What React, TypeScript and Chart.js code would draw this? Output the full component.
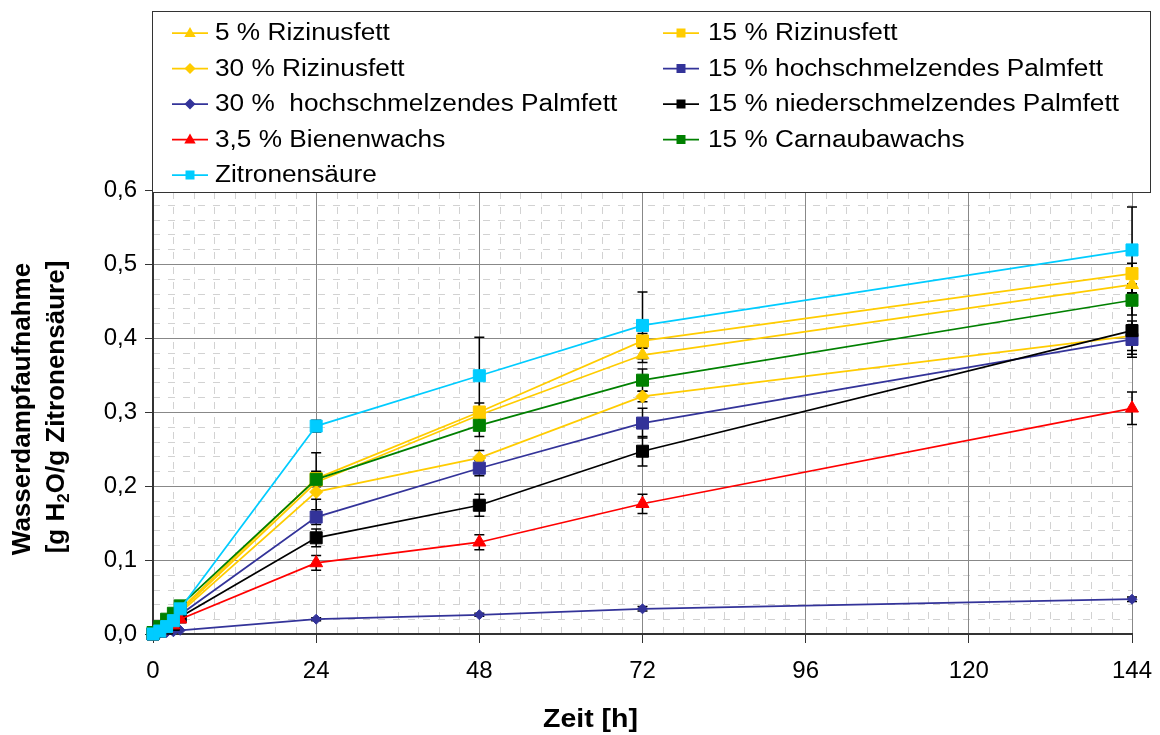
import React, { useEffect, useRef } from 'react';
import { Chart, registerables } from 'chart.js';

Chart.register(...registerables);

// ---- data ----
const times = [0, 1, 2, 3, 4, 24, 48, 72, 144];
const seriesNames = [
  '5 % Rizinusfett',
  '15 % Rizinusfett',
  '30 % Rizinusfett',
  '15 % hochschmelzendes Palmfett',
  '30 %  hochschmelzendes Palmfett',
  '15 % niederschmelzendes Palmfett',
  '3,5 % Bienenwachs',
  '15 % Carnaubawachs',
  'Zitronensäure',
];
const riz5 = [0, 0.005, 0.011, 0.019, 0.031, 0.205, 0.296, 0.377, 0.472];
const riz15 = [0, 0.005, 0.012, 0.02, 0.033, 0.21, 0.3, 0.396, 0.487];
const riz30 = [0, 0.004, 0.01, 0.017, 0.029, 0.192, 0.238, 0.321, 0.403];
const hoch15 = [0, 0.004, 0.009, 0.015, 0.026, 0.158, 0.224, 0.285, 0.398];
const hoch30 = [0, 0.001, 0.002, 0.003, 0.005, 0.02, 0.026, 0.034, 0.047];
const nieder15 = [0, 0.004, 0.008, 0.013, 0.023, 0.13, 0.174, 0.247, 0.41];
const bienen = [0, 0.003, 0.007, 0.012, 0.02, 0.096, 0.124, 0.176, 0.305];
const carnauba = [0.002, 0.01, 0.02, 0.028, 0.038, 0.209, 0.282, 0.343, 0.451];
const zitronen = [0, 0.004, 0.01, 0.018, 0.034, 0.281, 0.349, 0.417, 0.519];

const riz5Err = [0, 0, 0, 0, 0, 0.04, 0.01, 0.01, 0.012];
const riz15Err = [0, 0, 0, 0, 0, 0.01, 0.012, 0.01, 0.014];
const riz30Err = [0, 0, 0, 0, 0, 0.01, 0.01, 0.007, 0.02];
const hoch15Err = [0, 0, 0, 0, 0, 0.01, 0.01, 0.02, 0.02];
const hoch30Err = [0, 0, 0, 0, 0, 0.002, 0.002, 0.003, 0.003];
const nieder15Err = [0, 0, 0, 0, 0, 0.012, 0.015, 0.02, 0.036];
const bienenErr = [0, 0, 0, 0, 0, 0.01, 0.01, 0.013, 0.022];
const carnaubaErr = [0, 0, 0, 0, 0, 0.01, 0.015, 0.015, 0.02];
const zitronenErr = [0, 0, 0, 0, 0, 0.008, 0.052, 0.045, 0.058];

const xTickStep = 24;
const yTickStep = 0.1;
const xTitle = 'Zeit [h]';
const yTitleLine1 = 'Wasserdampfaufnahme';
const yTitleLine2 = ['[g H', '2', 'O/g Zitronensäure]'];

// ---- styles ----
const GOLD = '#FFCC00';
const NAVY = '#333399';
const seriesValues = [riz5, riz15, riz30, hoch15, hoch30, nieder15, bienen, carnauba, zitronen];
const seriesErrors = [riz5Err, riz15Err, riz30Err, hoch15Err, hoch30Err, nieder15Err, bienenErr, carnaubaErr, zitronenErr];
const seriesColors = [GOLD, GOLD, GOLD, NAVY, NAVY, '#000000', '#FF0000', '#008000', '#00CCFF'];
const seriesShapes = ['triangle', 'rect', 'rectRot', 'rect', 'rectRot', 'rect', 'triangle', 'rect', 'rect'];
const seriesRadius = [7.5, 8.5, 6.5, 8.5, 5, 8.5, 7.5, 8.5, 8.5];

const FONT = '"Liberation Sans", Arial, Helvetica, sans-serif';

function drawShape(ctx: CanvasRenderingContext2D, shape: string, x: number, y: number, s: number) {
  ctx.beginPath();
  if (shape === 'triangle') {
    ctx.moveTo(x, y - s);
    ctx.lineTo(x + s * 0.95, y + s * 0.65);
    ctx.lineTo(x - s * 0.95, y + s * 0.65);
    ctx.closePath();
  } else if (shape === 'rect') {
    ctx.rect(x - s * 0.75, y - s * 0.75, s * 1.5, s * 1.5);
  } else {
    ctx.moveTo(x, y - s);
    ctx.lineTo(x + s, y);
    ctx.lineTo(x, y + s);
    ctx.lineTo(x - s, y);
    ctx.closePath();
  }
  ctx.fill();
}

const minorGridPlugin = {
  id: 'minorGrid',
  beforeDraw(chart: any) {
    const { ctx, chartArea: a, scales } = chart;
    const x = scales.x;
    const y = scales.y;
    ctx.save();
    ctx.strokeStyle = '#d2d2d2';
    ctx.lineWidth = 1;
    ctx.setLineDash([7, 8]);
    for (let t = 3; t < 144; t += 3) {
      if (t % 24 === 0) continue;
      const px = Math.round(x.getPixelForValue(t)) + 0.5;
      ctx.beginPath();
      ctx.moveTo(px, a.bottom);
      ctx.lineTo(px, a.top);
      ctx.stroke();
    }
    for (let k = 1; k < 30; k++) {
      if (k % 5 === 0) continue;
      const py = Math.round(y.getPixelForValue(k * 0.02)) + 0.5;
      ctx.beginPath();
      ctx.moveTo(a.left, py);
      ctx.lineTo(a.right, py);
      ctx.stroke();
    }
    ctx.restore();
  },
};

const errorBarPlugin = {
  id: 'errorBars',
  beforeDatasetsDraw(chart: any) {
    const { ctx, scales } = chart;
    const x = scales.x;
    const y = scales.y;
    ctx.save();
    ctx.strokeStyle = '#000';
    ctx.lineWidth = 1.5;
    seriesValues.forEach((vals, i) => {
      const errs = seriesErrors[i];
      vals.forEach((v, j) => {
        const e = errs[j];
        if (!e) return;
        const px = x.getPixelForValue(times[j]);
        const top = y.getPixelForValue(v + e);
        const bot = y.getPixelForValue(v - e);
        ctx.beginPath();
        ctx.moveTo(px, top);
        ctx.lineTo(px, bot);
        ctx.moveTo(px - 5, top);
        ctx.lineTo(px + 5, top);
        ctx.moveTo(px - 5, bot);
        ctx.lineTo(px + 5, bot);
        ctx.stroke();
      });
    });
    ctx.restore();
  },
};

const annotationPlugin = {
  id: 'customText',
  afterDraw(chart: any) {
    const { ctx } = chart;
    ctx.save();
    // legend box
    ctx.fillStyle = '#fff';
    ctx.fillRect(152, 11, 998, 181);
    ctx.strokeStyle = '#333';
    ctx.lineWidth = 1;
    ctx.strokeRect(152.5, 11.5, 998, 181);
    const cols = [
      { lx1: 172, lx2: 208, tx: 215 },
      { lx1: 663, lx2: 699, tx: 708 },
    ];
    const legendSizes = [6, 6, 5.5, 6, 5.5, 6, 6, 6, 6];
    seriesNames.forEach((name, i) => {
      const col = cols[i % 2];
      const row = Math.floor(i / 2);
      const cy = 33 + row * 35.5;
      const color = seriesColors[i];
      ctx.strokeStyle = color;
      ctx.lineWidth = 1.75;
      ctx.beginPath();
      ctx.moveTo(col.lx1, cy);
      ctx.lineTo(col.lx2, cy);
      ctx.stroke();
      ctx.fillStyle = color;
      drawShape(ctx, seriesShapes[i], (col.lx1 + col.lx2) / 2, cy, legendSizes[i]);
      ctx.save();
      ctx.translate(col.tx, cy);
      ctx.scale(1.14, 1);
      ctx.fillStyle = '#000';
      ctx.font = `23px ${FONT}`;
      ctx.textBaseline = 'middle';
      ctx.textAlign = 'left';
      ctx.fillText(name, 0, 1);
      ctx.restore();
    });

    // x title
    ctx.save();
    ctx.translate(543, 720);
    ctx.scale(1.14, 1);
    ctx.fillStyle = '#000';
    ctx.font = `bold 25px ${FONT}`;
    ctx.textBaseline = 'middle';
    ctx.textAlign = 'left';
    ctx.fillText(xTitle, 0, 0);
    ctx.restore();

    // y title
    ctx.save();
    ctx.fillStyle = '#000';
    ctx.textBaseline = 'middle';
    ctx.textAlign = 'left';
    ctx.translate(23, 409);
    ctx.rotate(-Math.PI / 2);
    ctx.font = `bold 26px ${FONT}`;
    const w1 = ctx.measureText(yTitleLine1).width;
    ctx.fillText(yTitleLine1, -w1 / 2, 0);
    ctx.restore();

    ctx.save();
    ctx.fillStyle = '#000';
    ctx.textBaseline = 'middle';
    ctx.textAlign = 'left';
    ctx.translate(57, 407);
    ctx.rotate(-Math.PI / 2);
    ctx.font = `bold 26px ${FONT}`;
    const a = ctx.measureText(yTitleLine2[0]).width;
    const c = ctx.measureText(yTitleLine2[2]).width;
    ctx.font = `bold 17px ${FONT}`;
    const b = ctx.measureText(yTitleLine2[1]).width;
    let sx = -(a + b + c) / 2;
    ctx.font = `bold 26px ${FONT}`;
    ctx.fillText(yTitleLine2[0], sx, 0);
    sx += a;
    ctx.font = `bold 17px ${FONT}`;
    ctx.fillText(yTitleLine2[1], sx, 7);
    sx += b;
    ctx.font = `bold 26px ${FONT}`;
    ctx.fillText(yTitleLine2[2], sx, 0);
    ctx.restore();

    ctx.restore();
  },
};

export default function App() {
  const canvasRef = useRef<HTMLCanvasElement | null>(null);

  useEffect(() => {
    document.body.style.margin = '0';
    const canvas = canvasRef.current;
    if (!canvas) return;
    const datasets = seriesNames.map((name, i) => ({
      label: name,
      data: times.map((t, j) => ({ x: t, y: seriesValues[i][j] })),
      borderColor: seriesColors[i],
      backgroundColor: seriesColors[i],
      pointBackgroundColor: seriesColors[i],
      pointBorderColor: seriesColors[i],
      pointBorderWidth: 1,
      pointStyle: seriesShapes[i],
      pointRadius: seriesRadius[i],
      borderWidth: 1.75,
      tension: 0,
      fill: false,
      clip: false,
      order: seriesNames.length - i,
    }));
    const chart = new Chart(canvas, {
      type: 'line',
      data: { datasets },
      plugins: [minorGridPlugin, errorBarPlugin, annotationPlugin],
      options: {
        animation: false,
        responsive: false,
        maintainAspectRatio: false,
        layout: { padding: { top: 190, right: 28, left: 0, bottom: 0 } },
        plugins: {
          legend: { display: false },
          tooltip: { enabled: false },
          title: { display: false },
        },
        scales: {
          x: {
            type: 'linear',
            min: 0,
            max: 144,
            afterFit: (s: any) => {
              s.height = 101;
              s.paddingLeft = 0;
              s.paddingRight = 0;
            },
            ticks: {
              stepSize: xTickStep,
              color: '#000',
              font: { family: FONT, size: 24 },
              padding: 14,
              maxRotation: 0,
              autoSkip: false,
            },
            grid: { color: '#888', lineWidth: 1, tickColor: '#333', tickLength: 9 },
            border: { color: '#333', width: 2 },
          },
          y: {
            type: 'linear',
            min: 0,
            max: 0.6,
            afterFit: (s: any) => {
              s.width = 153;
              s.paddingTop = 0;
              s.paddingBottom = 0;
            },
            ticks: {
              stepSize: yTickStep,
              color: '#000',
              font: { family: FONT, size: 24 },
              padding: 8,
              callback: (v: any) => Number(v).toFixed(1).replace('.', ','),
            },
            grid: { color: '#888', lineWidth: 1, tickColor: '#333', tickLength: 8 },
            border: { color: '#333', width: 2 },
          },
        },
      },
    } as any);
    return () => chart.destroy();
  }, []);

  return (
    <div style={{ width: 1160, height: 735 }}>
      <canvas ref={canvasRef} width={1160} height={735} style={{ display: 'block' }} />
    </div>
  );
}
